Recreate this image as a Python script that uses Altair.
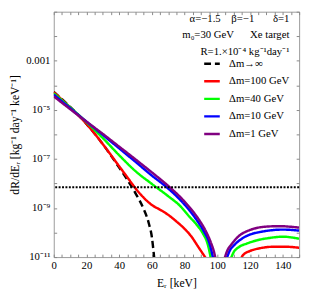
import altair as alt
import pandas as pd

series_names = ["Δm→∞", "Δm=100 GeV", "Δm=40 GeV", "Δm=10 GeV", "Δm=1 GeV"]
series_colors = ["#000000", "#ff0000", "#00ff00", "#0000ff", "#800080"]
series_dash = [[7, 4], [1, 0], [1, 0], [1, 0], [1, 0]]

# log10 of dR/dE_R
inf_E = [0, 10, 20, 30, 40, 45, 50, 55, 58, 60, 61.5]
inf_log = [-4.27, -4.88, -5.57, -6.4, -7.35, -7.85, -8.4, -9.05, -9.6, -10.2, -11.1]

m100_E_a = [0, 10, 20, 30, 40, 45, 50, 55, 60, 65, 70, 75, 80, 84, 88, 91, 93.5]
m100_log_a = [-4.28, -4.9, -5.57, -6.4, -7.3, -7.75, -8.2, -8.58, -8.88, -9.07, -9.28, -9.55, -9.85, -10.15, -10.55, -10.85, -11.1]
m100_E_b = [114, 116, 120, 126, 134, 142, 150]
m100_log_b = [-11.1, -10.9, -10.75, -10.64, -10.58, -10.58, -10.62]

m40_E_a = [0, 10, 20, 30, 40, 50, 60, 70, 77, 83, 87, 91, 94, 96.2]
m40_log_a = [-4.33, -4.9, -5.5, -6.15, -6.85, -7.5, -8.02, -8.52, -8.9, -9.36, -9.65, -10.02, -10.45, -11.1]
m40_E_b = [108, 110, 113, 118, 124, 132, 140, 150]
m40_log_b = [-11.1, -10.8, -10.6, -10.45, -10.32, -10.22, -10.17, -10.25]

m10_E_a = [0, 10, 20, 30, 40, 50, 60, 69, 76, 83, 88, 92, 95, 97.6]
m10_log_a = [-4.38, -4.93, -5.48, -6.02, -6.57, -7.12, -7.68, -8.15, -8.58, -9.1, -9.55, -9.98, -10.4, -11.1]
m10_E_b = [105.5, 107.5, 110.5, 115, 120, 126, 134, 140, 150]
m10_log_b = [-11.1, -10.75, -10.5, -10.25, -10.08, -9.98, -9.9, -9.88, -9.92]

m1_E_a = [0, 10, 20, 30, 40, 50, 60, 70, 78, 84, 89, 93, 96, 98, 99]
m1_log_a = [-4.45, -4.97, -5.48, -5.98, -6.5, -7.02, -7.55, -8.1, -8.6, -9.05, -9.5, -9.95, -10.4, -10.8, -11.1]
m1_E_b = [104.2, 106, 109, 113, 119, 125, 132, 138, 144, 150]
m1_log_b = [-11.1, -10.75, -10.45, -10.15, -9.92, -9.8, -9.75, -9.74, -9.76, -9.8]

threshold = 7e-9

x_ticks = list(range(0, 151, 5))
y_ticks = [10.0 ** k for k in range(-11, 0)]

NB = "\u00a0"
legend_title = [
    "α=−1.5" + NB * 4 + "β=−1" + NB * 7 + "δ=1",
    "m₀=30 GeV" + NB * 6 + "Xe target",
    "R=1.×10⁻⁴ kg⁻¹day⁻¹",
]

segments = [
    (series_names[0], "a", inf_E, inf_log),
    (series_names[1], "a", m100_E_a, m100_log_a),
    (series_names[1], "b", m100_E_b, m100_log_b),
    (series_names[2], "a", m40_E_a, m40_log_a),
    (series_names[2], "b", m40_E_b, m40_log_b),
    (series_names[3], "a", m10_E_a, m10_log_a),
    (series_names[3], "b", m10_E_b, m10_log_b),
    (series_names[4], "a", m1_E_a, m1_log_a),
    (series_names[4], "b", m1_E_b, m1_log_b),
]
rows = []
for name, br, es, ls in segments:
    for i, (e, l) in enumerate(zip(es, ls)):
        rows.append({"series": name, "seg": name + br, "E": e, "R": 10.0 ** l, "order": i})
df = pd.DataFrame(rows)

FONT = "Liberation Serif"
xscale = alt.Scale(domain=[0, 150], nice=False, zero=False)
yscale = alt.Scale(type="log", domain=[1e-11, 1e-1], nice=False)

ylab = ("abs(log(datum.value)/LN10+3)<0.01 ? '0.001' : "
        "abs(log(datum.value)/LN10+5)<0.01 ? '10⁻⁵' : "
        "abs(log(datum.value)/LN10+7)<0.01 ? '10⁻⁷' : "
        "abs(log(datum.value)/LN10+9)<0.01 ? '10⁻⁹' : "
        "abs(log(datum.value)/LN10+11)<0.01 ? '10⁻¹¹' : ''")

common_axis = dict(domain=False, ticks=True, tickSize=3, offset=-3, tickColor="#888888",
                   grid=False, labelOverlap=False, labelFlush=False)

lines = alt.Chart(df).mark_line(strokeWidth=2.5, interpolate="monotone", clip=True).encode(
    x=alt.X("E:Q", scale=xscale,
            axis=alt.Axis(orient="bottom", values=x_ticks, labelExpr="datum.value % 20 == 0 ? datum.label : ''",
                          title="Eᵣ [keV]", titlePadding=7, labelPadding=3, **common_axis)),
    y=alt.Y("R:Q", scale=yscale,
            axis=alt.Axis(orient="left", values=y_ticks, labelExpr=ylab,
                          title="dR/dEᵣ [kg⁻¹ day⁻¹ keV⁻¹]", titlePadding=4, labelPadding=4, **common_axis)),
    color=alt.Color("series:N", scale=alt.Scale(domain=series_names, range=series_colors),
                    legend=alt.Legend(title=legend_title, orient="none", legendX=132, legendY=2,
                                      titleAnchor="end", titleAlign="right", titleFont=FONT,
                                      titleFontSize=11, titleFontWeight="normal", titleLineHeight=16.5,
                                      titlePadding=-2, labelFont=FONT, labelFontSize=11,
                                      symbolType="stroke", symbolStrokeWidth=2.5, symbolSize=256,
                                      symbolOffset=18, rowPadding=3, labelOffset=8)),
    strokeDash=alt.StrokeDash("series:N", scale=alt.Scale(domain=series_names, range=series_dash), legend=None),
    detail="seg:N",
    order="order:Q",
)

thr = alt.Chart(pd.DataFrame({"t": [threshold]})).mark_rule(color="black", strokeWidth=2.2, strokeDash=[2, 1.5]).encode(
    y=alt.Y("t:Q", scale=yscale, axis=None)
)

frame = alt.Chart(df).mark_point(opacity=0).encode(
    x=alt.X("E:Q", scale=xscale, axis=alt.Axis(orient="top", values=x_ticks, labels=False, title=None, **common_axis)),
    y=alt.Y("R:Q", scale=yscale, axis=alt.Axis(orient="right", values=y_ticks, labels=False, title=None, **common_axis)),
)

chart = alt.layer(lines, thr, frame).resolve_axis(x="independent", y="independent").properties(
    width=252, height=252,
    autosize=alt.AutoSizeParams(type="none"),
    padding={"left": 47, "top": 0, "right": 5, "bottom": 30},
).configure_view(stroke="#999999", strokeWidth=1).configure_axis(
    labelFont=FONT, labelFontSize=11, labelColor="black", titleFont=FONT, titleFontSize=12,
    titleFontWeight="normal", titleColor="black"
)

chart.save("out.html", embed_options={"renderer": "svg", "actions": False})
